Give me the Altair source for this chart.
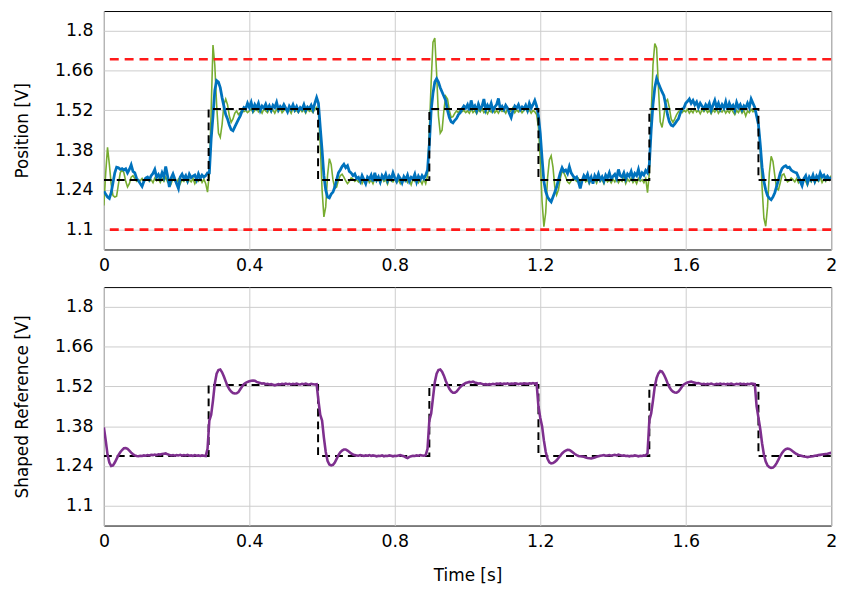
import altair as alt
import pandas as pd

# time grid, 5 ms step
time_s = [round(i * 0.005, 3) for i in range(401)]

# measured position (blue)
blue = [
    1.235,1.225,1.215,1.210,1.230,1.265,1.300,1.320,1.318,1.312,1.315,1.310,1.314,1.300,1.312,1.328,1.305,1.300,1.280,1.272,
    1.262,1.252,1.270,1.282,1.285,1.276,1.290,1.298,1.312,1.284,1.294,1.280,1.300,1.285,1.322,1.290,1.250,1.282,1.296,1.278,
    1.262,1.245,1.285,1.295,1.280,1.290,1.272,1.295,1.283,1.288,1.292,1.275,1.296,1.280,1.292,1.285,1.290,1.300,1.300,1.420,
    1.500,1.590,1.625,1.620,1.600,1.565,1.535,1.505,1.490,1.468,1.452,1.448,1.462,1.475,1.488,1.500,1.518,1.530,1.525,1.545,
    1.530,1.548,1.522,1.540,1.528,1.545,1.520,1.535,1.528,1.542,1.524,1.536,1.520,1.538,1.530,1.548,1.522,1.534,1.526,1.540,
    1.528,1.515,1.535,1.525,1.540,1.522,1.534,1.518,1.530,1.524,1.540,1.520,1.532,1.526,1.538,1.522,1.545,1.565,1.545,1.460,
    1.380,1.290,1.240,1.215,1.212,1.225,1.232,1.250,1.275,1.300,1.310,1.322,1.330,1.318,1.325,1.305,1.300,1.290,1.296,1.280,
    1.284,1.270,1.290,1.276,1.262,1.285,1.278,1.292,1.270,1.300,1.275,1.286,1.268,1.290,1.280,1.295,1.272,1.288,1.278,1.300,
    1.282,1.270,1.290,1.280,1.265,1.286,1.275,1.292,1.270,1.284,1.278,1.295,1.268,1.288,1.276,1.290,1.280,1.292,1.310,1.400,
    1.520,1.580,1.620,1.632,1.620,1.600,1.585,1.570,1.555,1.520,1.495,1.480,1.476,1.485,1.492,1.505,1.512,1.525,1.535,1.528,
    1.540,1.520,1.555,1.528,1.536,1.518,1.542,1.525,1.535,1.560,1.522,1.538,1.526,1.545,1.520,1.532,1.540,1.562,1.525,1.534,
    1.522,1.538,1.528,1.510,1.495,1.520,1.535,1.528,1.540,1.522,1.532,1.525,1.538,1.520,1.545,1.528,1.540,1.555,1.535,1.500,
    1.440,1.350,1.270,1.235,1.215,1.205,1.198,1.215,1.232,1.250,1.275,1.300,1.318,1.305,1.310,1.298,1.322,1.300,1.290,1.280,
    1.285,1.268,1.245,1.272,1.290,1.280,1.295,1.270,1.285,1.262,1.290,1.278,1.296,1.275,1.286,1.270,1.292,1.282,1.300,1.278,
    1.288,1.295,1.280,1.312,1.290,1.285,1.300,1.278,1.296,1.288,1.305,1.282,1.298,1.290,1.312,1.285,1.300,1.292,1.308,1.300,
    1.330,1.450,1.540,1.600,1.632,1.615,1.600,1.585,1.572,1.540,1.505,1.480,1.468,1.465,1.472,1.482,1.490,1.510,1.525,1.528,
    1.545,1.552,1.560,1.545,1.555,1.540,1.550,1.530,1.545,1.535,1.525,1.540,1.530,1.545,1.520,1.538,1.555,1.530,1.545,1.525,
    1.540,1.528,1.550,1.522,1.545,1.530,1.538,1.520,1.548,1.530,1.540,1.522,1.536,1.528,1.545,1.530,1.560,1.545,1.530,1.500,
    1.470,1.400,1.320,1.270,1.240,1.220,1.210,1.205,1.215,1.230,1.252,1.275,1.300,1.315,1.322,1.325,1.318,1.320,1.310,1.305,
    1.302,1.300,1.285,1.270,1.255,1.280,1.290,1.265,1.285,1.275,1.292,1.270,1.288,1.278,1.300,1.285,1.292,1.278,1.288,1.280,
    1.282,
]

# measured position (green)
green = [
    1.185,1.300,1.390,1.330,1.260,1.220,1.215,1.218,1.260,1.300,1.312,1.300,1.270,1.250,1.262,1.285,1.290,1.280,1.270,1.276,
    1.272,1.280,1.268,1.278,1.284,1.270,1.276,1.265,1.282,1.272,1.278,1.266,1.280,1.270,1.285,1.268,1.276,1.262,1.280,1.272,
    1.266,1.278,1.262,1.276,1.270,1.282,1.265,1.276,1.268,1.280,1.262,1.275,1.270,1.282,1.266,1.278,1.262,1.232,1.300,1.520,
    1.750,1.680,1.540,1.440,1.425,1.470,1.540,1.560,1.540,1.500,1.478,1.490,1.510,1.518,1.505,1.512,1.522,1.515,1.520,1.512,
    1.518,1.525,1.512,1.520,1.528,1.515,1.522,1.510,1.525,1.518,1.512,1.526,1.515,1.522,1.510,1.524,1.516,1.528,1.512,1.520,
    1.526,1.514,1.522,1.510,1.528,1.516,1.520,1.512,1.524,1.515,1.522,1.510,1.526,1.516,1.520,1.512,1.524,1.530,1.510,1.400,
    1.240,1.145,1.180,1.290,1.350,1.330,1.275,1.245,1.250,1.275,1.290,1.295,1.285,1.272,1.262,1.270,1.282,1.278,1.270,1.276,
    1.268,1.280,1.262,1.276,1.270,1.284,1.266,1.275,1.262,1.280,1.270,1.278,1.264,1.282,1.270,1.276,1.260,1.278,1.272,1.268,
    1.280,1.266,1.275,1.262,1.278,1.270,1.283,1.266,1.276,1.258,1.278,1.270,1.282,1.265,1.275,1.260,1.278,1.262,1.290,1.450,
    1.620,1.760,1.775,1.650,1.500,1.440,1.450,1.520,1.570,1.560,1.520,1.495,1.498,1.510,1.518,1.512,1.522,1.515,1.520,1.512,
    1.518,1.510,1.524,1.512,1.520,1.508,1.522,1.515,1.526,1.512,1.518,1.508,1.522,1.514,1.526,1.512,1.520,1.510,1.524,1.516,
    1.520,1.510,1.526,1.514,1.520,1.530,1.512,1.522,1.515,1.526,1.512,1.520,1.528,1.514,1.522,1.510,1.520,1.515,1.505,1.460,
    1.350,1.200,1.110,1.160,1.280,1.345,1.360,1.320,1.250,1.222,1.240,1.280,1.305,1.300,1.285,1.268,1.262,1.272,1.280,1.276,
    1.270,1.280,1.265,1.276,1.282,1.268,1.275,1.262,1.280,1.270,1.278,1.264,1.282,1.270,1.276,1.262,1.280,1.268,1.275,1.265,
    1.278,1.268,1.282,1.265,1.276,1.270,1.284,1.262,1.278,1.270,1.280,1.266,1.276,1.262,1.280,1.270,1.276,1.265,1.280,1.230,
    1.300,1.500,1.680,1.755,1.740,1.600,1.480,1.460,1.500,1.550,1.558,1.530,1.490,1.478,1.490,1.505,1.515,1.522,1.512,1.520,
    1.515,1.524,1.510,1.520,1.512,1.526,1.514,1.520,1.508,1.522,1.515,1.525,1.512,1.520,1.508,1.522,1.514,1.526,1.510,1.520,
    1.514,1.524,1.510,1.520,1.512,1.526,1.515,1.505,1.520,1.512,1.524,1.510,1.520,1.500,1.518,1.512,1.524,1.515,1.522,1.500,
    1.470,1.400,1.250,1.140,1.112,1.180,1.300,1.358,1.340,1.290,1.245,1.240,1.265,1.292,1.296,1.280,1.268,1.272,1.282,1.276,
    1.268,1.280,1.265,1.276,1.262,1.280,1.270,1.256,1.278,1.268,1.282,1.265,1.276,1.270,1.284,1.266,1.278,1.270,1.286,1.275,
    1.290,
]

# shaped reference (purple)
purple = [
    1.376,1.330,1.280,1.252,1.240,1.242,1.252,1.265,1.278,1.288,1.296,1.302,1.303,1.300,1.294,1.287,1.281,1.277,1.275,1.274,
    1.276,1.275,1.277,1.276,1.278,1.277,1.279,1.278,1.280,1.278,1.281,1.280,1.282,1.283,1.284,1.281,1.279,1.277,1.278,1.276,
    1.278,1.277,1.279,1.276,1.278,1.277,1.279,1.276,1.277,1.275,1.278,1.276,1.277,1.275,1.277,1.276,1.275,1.300,1.400,1.420,
    1.470,1.530,1.565,1.578,1.580,1.570,1.555,1.538,1.522,1.510,1.502,1.497,1.495,1.496,1.500,1.510,1.520,1.528,1.533,1.536,
    1.538,1.540,1.541,1.540,1.536,1.534,1.532,1.530,1.531,1.528,1.529,1.527,1.528,1.526,1.524,1.526,1.528,1.527,1.529,1.528,
    1.530,1.528,1.529,1.527,1.529,1.528,1.530,1.528,1.527,1.529,1.528,1.530,1.528,1.527,1.529,1.528,1.527,1.528,1.470,1.420,
    1.400,1.340,1.290,1.258,1.245,1.242,1.244,1.252,1.265,1.278,1.288,1.294,1.298,1.298,1.294,1.289,1.284,1.280,1.278,1.277,
    1.276,1.278,1.277,1.275,1.277,1.276,1.278,1.275,1.277,1.276,1.274,1.276,1.275,1.277,1.274,1.276,1.275,1.277,1.276,1.274,
    1.276,1.275,1.277,1.278,1.276,1.274,1.270,1.268,1.272,1.274,1.276,1.275,1.277,1.276,1.278,1.277,1.276,1.278,1.300,1.400,
    1.425,1.480,1.535,1.565,1.578,1.580,1.572,1.558,1.540,1.525,1.512,1.503,1.498,1.498,1.502,1.510,1.518,1.524,1.528,1.532,
    1.534,1.536,1.535,1.537,1.534,1.532,1.530,1.531,1.529,1.527,1.528,1.526,1.528,1.527,1.529,1.528,1.530,1.529,1.531,1.528,
    1.530,1.529,1.531,1.528,1.530,1.529,1.531,1.530,1.528,1.530,1.529,1.531,1.530,1.529,1.531,1.530,1.532,1.530,1.531,1.450,
    1.410,1.380,1.330,1.290,1.265,1.253,1.249,1.250,1.254,1.260,1.268,1.276,1.284,1.290,1.294,1.297,1.296,1.292,1.287,1.282,
    1.278,1.275,1.274,1.273,1.272,1.270,1.268,1.267,1.266,1.268,1.270,1.272,1.274,1.276,1.277,1.278,1.276,1.277,1.278,1.276,
    1.278,1.279,1.277,1.280,1.278,1.276,1.277,1.275,1.276,1.274,1.276,1.275,1.277,1.276,1.274,1.276,1.275,1.277,1.276,1.285,
    1.400,1.425,1.470,1.520,1.550,1.566,1.574,1.572,1.562,1.548,1.532,1.518,1.508,1.502,1.499,1.498,1.502,1.510,1.520,1.527,
    1.531,1.534,1.536,1.537,1.535,1.533,1.531,1.532,1.530,1.528,1.529,1.527,1.529,1.528,1.530,1.528,1.527,1.529,1.528,1.530,
    1.528,1.529,1.527,1.529,1.528,1.530,1.528,1.527,1.529,1.528,1.530,1.528,1.529,1.527,1.529,1.528,1.530,1.529,1.528,1.450,
    1.410,1.370,1.320,1.280,1.255,1.242,1.236,1.233,1.234,1.240,1.250,1.262,1.275,1.286,1.294,1.299,1.301,1.300,1.296,1.291,
    1.286,1.282,1.279,1.277,1.275,1.273,1.272,1.271,1.272,1.273,1.274,1.276,1.277,1.278,1.279,1.280,1.281,1.282,1.283,1.285,
    1.286,
]

assert len(blue) == 401 and len(green) == 401 and len(purple) == 401

# square-wave reference (step-after)
ref_t = [0, 0.288, 0.589, 0.895, 1.195, 1.5, 1.8, 2.0]
ref_v = [1.275, 1.525, 1.275, 1.525, 1.275, 1.525, 1.275, 1.275]

# position limits
limits = [1.1, 1.7]

x_ticks = [0, 0.4, 0.8, 1.2, 1.6, 2]
y_ticks = [1.1, 1.24, 1.38, 1.52, 1.66, 1.8]

df_green = pd.DataFrame({"t": time_s, "v": green})
df_blue = pd.DataFrame({"t": time_s, "v": blue})
df_purple = pd.DataFrame({"t": time_s, "v": purple})
df_ref = pd.DataFrame({"t": ref_t, "v": ref_v})
df_lim = pd.DataFrame({"v": limits})

FONT = "DejaVu Sans"
xscale = alt.Scale(domain=[0, 2], nice=False, zero=False)
yscale = alt.Scale(domain=[1.03, 1.87], nice=False, zero=False)


def xenc(title):
    return alt.X("t:Q", scale=xscale,
                 axis=alt.Axis(values=x_ticks, format=".3~g", title=title, labelFlush=False))


def yenc(title):
    return alt.Y("v:Q", scale=yscale,
                 axis=alt.Axis(values=y_ticks, format=".3~g", title=title, labelFlush=False))


W, H = 735, 241

ytop = yenc("Position [V]")
xtop = xenc(None)

g_line = alt.Chart(df_green).mark_line(color="#77AC30", strokeWidth=1.6, clip=True).encode(x=xtop, y=ytop)
b_line = alt.Chart(df_blue).mark_line(color="#0072BD", strokeWidth=2.8, clip=True).encode(x=xtop, y=ytop)
r_line = alt.Chart(df_ref).mark_line(color="black", strokeWidth=2, strokeDash=[8, 5],
                                     interpolate="step-after", clip=True).encode(x=xtop, y=ytop)
lim_rule = alt.Chart(df_lim).mark_rule(color="#FF1A1A", strokeWidth=2.6, strokeDash=[9, 6]).encode(y=ytop)

top = alt.layer(g_line, b_line, r_line, lim_rule).properties(width=W, height=H)

ybot = yenc("Shaped Reference [V]")
xbot = xenc("Time [s]")
r_line2 = alt.Chart(df_ref).mark_line(color="black", strokeWidth=2, strokeDash=[8, 5],
                                      interpolate="step-after", clip=True).encode(x=xbot, y=ybot)
p_line = alt.Chart(df_purple).mark_line(color="#7E2F8E", strokeWidth=2.6, clip=True).encode(x=xbot, y=ybot)
bottom = alt.layer(r_line2, p_line).properties(width=W, height=H)

chart = (
    alt.vconcat(top, bottom, spacing=12)
    .properties(padding={"left": 13, "top": 7, "right": 8, "bottom": 3})
    .configure_view(stroke="black", strokeWidth=1)
    .configure_axis(
        grid=True, gridColor="#cccccc", gridWidth=1, domain=False, ticks=False,
        labelFont=FONT, labelFontSize=17.5, labelColor="black",
        titleFont=FONT, titleFontSize=17, titleFontWeight="normal", titleColor="black",
    )
    .configure_axisY(labelPadding=11, titlePadding=23)
    .configure_axisX(labelPadding=7, titlePadding=18)
)

chart.save("out.html", embed_options={"renderer": "svg", "actions": False})
